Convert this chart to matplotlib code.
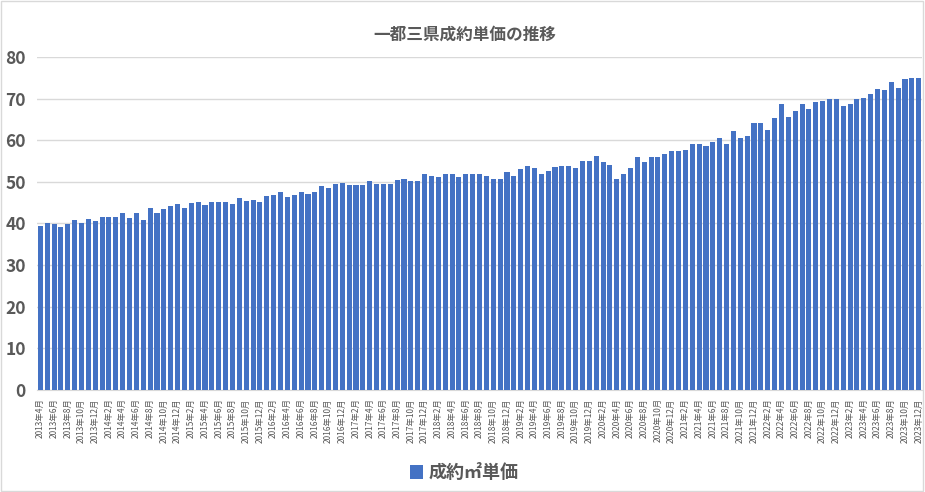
import numpy as np
import matplotlib
matplotlib.use("Agg")
import matplotlib.pyplot as plt
from matplotlib.patches import Rectangle

plt.rcParams['font.family'] = ['Noto Sans CJK JP', 'DejaVu Sans']

# Données : prix unitaire (万円/㎡) par mois, 2013年4月 -> 2023年12月
start_year = 2013
start_month = 4
unit_price = [
    39.3, 40.0, 39.9, 39.2, 39.9, 40.9, 40.2, 41.1, 40.5, 41.5,
    41.6, 41.6, 42.4, 41.3, 42.5, 40.9, 43.7, 42.5, 43.6, 44.2,
    44.8, 43.7, 44.9, 45.2, 44.4, 45.2, 45.2, 45.1, 44.8, 46.1,
    45.5, 45.7, 45.2, 46.6, 46.9, 47.5, 46.3, 46.8, 47.5, 47.1,
    47.5, 49.0, 48.6, 49.6, 49.8, 49.2, 49.2, 49.2, 50.3, 49.5,
    49.6, 49.5, 50.4, 50.7, 50.1, 50.1, 51.9, 51.5, 51.1, 52.0,
    52.0, 51.1, 51.8, 52.0, 52.0, 51.3, 50.6, 50.7, 52.3, 51.5,
    53.2, 53.9, 53.3, 51.8, 52.7, 53.5, 53.9, 53.7, 53.4, 55.1,
    54.9, 56.3, 54.7, 54.0, 50.8, 52.0, 53.4, 56.0, 54.8, 55.9,
    55.9, 56.8, 57.5, 57.5, 57.7, 59.0, 59.0, 58.6, 59.5, 60.6,
    59.1, 62.2, 60.5, 60.9, 64.2, 64.2, 62.5, 65.4, 68.8, 65.7,
    67.1, 68.6, 67.4, 69.1, 69.4, 69.8, 70.0, 68.3, 68.8, 69.9,
    70.2, 71.0, 72.2, 72.0, 74.1, 72.5, 74.6, 75.0, 74.9,
]
y_ticks = [0, 10, 20, 30, 40, 50, 60, 70, 80]
title = "一都三県成約単価の推移"
series_name = "成約㎡単価"

# Libellés des mois
month_labels = []
for i in range(len(unit_price)):
    m = start_month - 1 + i
    month_labels.append(f"{start_year + m // 12}年{m % 12 + 1}月")

bar_color = "#4472C4"
text_color = "#595959"

fig = plt.figure(figsize=(9.25, 4.92), dpi=100)
ax = fig.add_axes([0.0399, 0.2073, 0.957, 0.6769])

x = np.arange(len(unit_price))
ax.bar(x, unit_price, width=0.74, color=bar_color, label=series_name, zorder=3)

ax.set_xlim(-0.5, len(unit_price) - 0.5)
ax.set_ylim(0, 80)
ax.set_yticks(y_ticks)
ax.set_yticklabels([str(v) for v in y_ticks], fontsize=12.5, fontweight='bold', color=text_color)
ax.yaxis.grid(True, color="#d9d9d9", linewidth=1, zorder=0)
ax.tick_params(axis='y', length=0, pad=8)

# un libellé sur deux
ax.set_xticks(x[::2])
ax.set_xticklabels(month_labels[::2], rotation=90, fontsize=6, color=text_color)
ax.tick_params(axis='x', length=0, pad=6)

for side in ['top', 'right', 'left']:
    ax.spines[side].set_visible(False)
ax.spines['bottom'].set_color("#d9d9d9")

fig.text(0.502, 0.929, title, ha='center', va='center', fontsize=12,
         fontweight='bold', color=text_color)

fig.legend(loc='center', bbox_to_anchor=(0.502, 0.039), frameon=False,
           labelcolor=text_color, handlelength=0.75, handleheight=0.75,
           handletextpad=0.3, prop={'weight': 'bold', 'size': 13})

# cadre autour de la figure
fig.patches.append(Rectangle((0.001, 0.002), 0.997, 0.996, transform=fig.transFigure,
                             fill=False, edgecolor="#d9d9d9", linewidth=1))

fig.savefig("out.png", dpi=100)
